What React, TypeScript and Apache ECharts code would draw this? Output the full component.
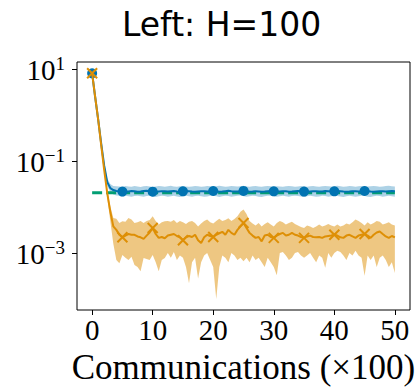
import React, { useEffect, useRef } from 'react';
import * as echarts from 'echarts';

// x step between stored points (in units of 100 communications)
const xStep = 0.5;
const xTicks = [0, 10, 20, 30, 40, 50];
const yTickExponents = [-3, -1, 1];

const orangeMean = [
  8.2, 2.5, 0.8, 0.22, 0.063, 0.02, 0.008, 0.0038, 0.0032, 0.0025,
  0.0022, 0.0024, 0.0026, 0.0025, 0.0025, 0.0023, 0.0022, 0.00204, 0.0024, 0.0028,
  0.0035, 0.0026, 0.00214, 0.00224, 0.0021, 0.0024, 0.0025, 0.0026, 0.00235, 0.0022,
  0.0019, 0.0022, 0.00235, 0.00224, 0.0025, 0.0019, 0.00166, 0.0022, 0.0025, 0.00235,
  0.00224, 0.0025, 0.0027, 0.0029, 0.0025, 0.0032, 0.00275, 0.0025, 0.0032, 0.0038,
  0.0045, 0.0035, 0.00275, 0.0024, 0.00214, 0.00224, 0.0018, 0.0024, 0.0025, 0.00224,
  0.00214, 0.0024, 0.0026, 0.00275, 0.0024, 0.0025, 0.00275, 0.0025, 0.0024, 0.00224,
  0.00214, 0.0023, 0.0024, 0.00224, 0.0022, 0.00224, 0.00214, 0.0023, 0.00235, 0.0024,
  0.0025, 0.0024, 0.0022, 0.00214, 0.0024, 0.0025, 0.0023, 0.00214, 0.0024, 0.0025,
  0.0026, 0.0024, 0.00214, 0.0025, 0.0028, 0.00295, 0.0026, 0.0023, 0.00214, 0.00235,
  0.0022,
];
const orangeUpper = [
  8.5, 2.6, 0.83, 0.24, 0.071, 0.024, 0.0105, 0.0058, 0.0056, 0.0045,
  0.0049, 0.0048, 0.0058, 0.0054, 0.0045, 0.0047, 0.005, 0.0045, 0.005, 0.00525,
  0.0063, 0.005, 0.0042, 0.0047, 0.0049, 0.005, 0.0048, 0.00525, 0.0045, 0.005,
  0.0047, 0.0043, 0.0048, 0.005, 0.0045, 0.0038, 0.0044, 0.005, 0.0054, 0.0047,
  0.0044, 0.005, 0.0056, 0.005, 0.00525, 0.00575, 0.005, 0.0055, 0.0063, 0.0079,
  0.0089, 0.0071, 0.005, 0.0044, 0.004, 0.0045, 0.0038, 0.0043, 0.0047, 0.0042,
  0.0038, 0.0045, 0.005, 0.0047, 0.0042, 0.0045, 0.0048, 0.0043, 0.004, 0.0037,
  0.0035, 0.004, 0.0038, 0.0035, 0.0038, 0.0042, 0.0038, 0.004, 0.0043, 0.004,
  0.0038, 0.0042, 0.0038, 0.004, 0.0044, 0.0042, 0.0047, 0.0054, 0.005, 0.0045,
  0.004, 0.0047, 0.0042, 0.0045, 0.005, 0.0048, 0.0042, 0.0044, 0.0047, 0.0042,
  0.004,
];
const orangeLower = [
  7.9, 2.4, 0.76, 0.21, 0.056, 0.016, 0.005, 0.0016, 0.00071, 0.0006,
  0.00091, 0.00079, 0.00071, 0.00083, 0.00055, 0.0005, 0.0004, 0.00078, 0.00074, 0.00071,
  0.00091, 0.00063, 0.0004, 0.00071, 0.00078, 0.001, 0.00079, 0.00105, 0.00071, 0.00089,
  0.00079, 0.0005, 0.00022, 0.00063, 0.00079, 0.00028, 0.00063, 0.00089, 0.001, 0.00071,
  0.0005, 0.0001, 0.0005, 0.00089, 0.00079, 0.00063, 0.001, 0.00089, 0.00071, 0.00079,
  0.00066, 0.00079, 0.00063, 0.00089, 0.00071, 0.00079, 0.00063, 0.0005, 0.00079, 0.00063,
  0.0005, 0.00033, 0.001, 0.00105, 0.00089, 0.00071, 0.00079, 0.001, 0.00105, 0.00089,
  0.00079, 0.00089, 0.001, 0.00079, 0.00063, 0.00089, 0.00079, 0.00048, 0.001, 0.00079,
  0.001, 0.00112, 0.00105, 0.00089, 0.00071, 0.001, 0.00089, 0.00112, 0.00089, 0.00079,
  0.00032, 0.00089, 0.00071, 0.00089, 0.0005, 0.00079, 0.00089, 0.00071, 0.0005, 0.00063,
  0.00037,
];

const blueMean = [
  8.2, 2.5, 0.8, 0.24, 0.079, 0.035, 0.026, 0.0235, 0.0225, 0.0222,
  0.0218, 0.0216, 0.022, 0.0224, 0.0221, 0.0217, 0.0219, 0.0224, 0.0226, 0.0222,
  0.0217, 0.0215, 0.0219, 0.0223, 0.0221, 0.0218, 0.0222, 0.0225, 0.022, 0.0217,
  0.0221, 0.0224, 0.0222, 0.0218, 0.0216, 0.022, 0.0223, 0.0221, 0.0218, 0.022,
  0.0224, 0.0222, 0.0217, 0.0219, 0.0223, 0.0226, 0.0221, 0.0218, 0.0219, 0.0222,
  0.0225, 0.0221, 0.0217, 0.0219, 0.0223, 0.022, 0.0216, 0.0218, 0.0222, 0.0224,
  0.0221, 0.0218, 0.022, 0.0223, 0.0221, 0.0217, 0.0219, 0.0222, 0.0225, 0.0222,
  0.0218, 0.0217, 0.022, 0.0223, 0.0221, 0.0218, 0.022, 0.0224, 0.0222, 0.0219,
  0.0221, 0.0224, 0.0222, 0.0218, 0.0216, 0.0219, 0.0223, 0.0221, 0.0218, 0.022,
  0.0224, 0.0222, 0.0219, 0.0217, 0.022, 0.0223, 0.0221, 0.0218, 0.0222, 0.0225,
  0.0221,
];
const blueUpper = [
  8.4, 2.6, 0.84, 0.26, 0.088, 0.042, 0.032, 0.029, 0.0285, 0.028,
  0.0275, 0.029, 0.0282, 0.0278, 0.0288, 0.0281, 0.0276, 0.0285, 0.029, 0.0283,
  0.0277, 0.0281, 0.0289, 0.0284, 0.0279, 0.0286, 0.0291, 0.0283, 0.0278, 0.0284,
  0.0288, 0.0282, 0.0277, 0.0283, 0.029, 0.0285, 0.0279, 0.0282, 0.0287, 0.0284,
  0.0279, 0.0286, 0.0292, 0.0284, 0.0278, 0.0283, 0.0289, 0.0285, 0.028, 0.0286,
  0.0291, 0.0283, 0.0278, 0.0284, 0.0288, 0.0281, 0.0277, 0.0284, 0.029, 0.0285,
  0.028, 0.0286, 0.0283, 0.0278, 0.0285, 0.029, 0.0284, 0.0279, 0.0283, 0.0288,
  0.0284, 0.0279, 0.0285, 0.029, 0.0283, 0.0278, 0.0284, 0.0289, 0.0285, 0.028,
  0.0286, 0.0291, 0.0284, 0.0279, 0.0283, 0.0288, 0.0284, 0.0278, 0.0285, 0.029,
  0.0286, 0.028, 0.0284, 0.0289, 0.0285, 0.0279, 0.0283, 0.0288, 0.0291, 0.0286,
  0.0283,
];
const blueLower = [
  8.0, 2.4, 0.76, 0.22, 0.071, 0.029, 0.021, 0.0188, 0.018, 0.0176,
  0.0171, 0.0176, 0.0173, 0.0169, 0.0175, 0.0178, 0.0172, 0.0168, 0.0174, 0.0177,
  0.0171, 0.0167, 0.0173, 0.0178, 0.0174, 0.0169, 0.0172, 0.0176, 0.0171, 0.0167,
  0.0173, 0.0177, 0.0172, 0.0168, 0.0174, 0.0178, 0.0173, 0.0169, 0.0171, 0.0176,
  0.0178, 0.0172, 0.0167, 0.0173, 0.0177, 0.0174, 0.0169, 0.0172, 0.0176, 0.0179,
  0.0173, 0.0168, 0.0172, 0.0177, 0.0174, 0.0169, 0.0166, 0.0172, 0.0176, 0.0178,
  0.0172, 0.0168, 0.0173, 0.0177, 0.0173, 0.0169, 0.0174, 0.0178, 0.0175, 0.017,
  0.0167, 0.0172, 0.0176, 0.0173, 0.0168, 0.0171, 0.0177, 0.0174, 0.0169, 0.0173,
  0.0178, 0.0175, 0.017, 0.0167, 0.0172, 0.0176, 0.0173, 0.0168, 0.0172, 0.0177,
  0.0174, 0.0169, 0.0167, 0.0173, 0.0177, 0.0174, 0.0169, 0.0172, 0.0176, 0.0173,
  0.0169,
];

const greenX = [0, 50];
const greenLevel = [0.0205, 0.0205];

const BLUE = '#0173b2';
const ORANGE = '#de8f05';
const GREEN = '#029e73';
const SERIF = 'Liberation Serif';

export default function App() {
  const ref = useRef<HTMLDivElement>(null);

  useEffect(() => {
    if (!ref.current) return;
    const chart = echarts.init(ref.current, null, { renderer: 'svg' });

    const toPts = (arr: number[]) => arr.map((v, i) => [i * xStep, v]);
    const markerSize = (_v: any, p: any) =>
      p.dataIndex % 10 === 0 && p.dataIndex < 100 ? 10 : 0;

    const band = (upper: number[], lower: number[], fill: string, z: number) => ({
      type: 'custom',
      xAxisIndex: 0,
      yAxisIndex: 0,
      data: [[0, 1]],
      silent: true,
      clip: true,
      z,
      renderItem: (_params: any, api: any) => {
        const pts: number[][] = [];
        upper.forEach((v, i) => pts.push(api.coord([i * xStep, v])));
        for (let i = lower.length - 1; i >= 0; i--) pts.push(api.coord([i * xStep, lower[i]]));
        return {
          type: 'polygon',
          shape: { points: pts },
          style: { fill, stroke: 'none' },
        };
      },
    });

    const option: any = {
      animation: false,
      title: {
        text: 'Left: H=100',
        left: 117,
        top: 3,
        textStyle: { fontFamily: 'DejaVu Sans', fontSize: 33, fontWeight: 'normal', color: '#000' },
      },
      grid: [
        { left: 77, top: 62, right: 9, bottom: 81, show: true, borderColor: '#000', borderWidth: 1, backgroundColor: 'transparent', z: 10 },
        { left: 92.14, right: 24.14, top: 62, bottom: 81 },
        { left: 77, right: 9, top: 69.35, bottom: 137.9 },
      ],
      xAxis: [
        { gridIndex: 0, type: 'value', min: -2.5, max: 52.5, show: false },
        {
          gridIndex: 1,
          type: 'value',
          min: xTicks[0],
          max: xTicks[xTicks.length - 1],
          interval: xTicks[1] - xTicks[0],
          axisLine: { show: false },
          axisTick: { show: true, length: 5, lineStyle: { color: '#000', width: 1 } },
          axisLabel: { fontFamily: SERIF, fontSize: 29, color: '#000', margin: 5 },
          splitLine: { show: false },
          name: 'Communications (×100)',
          nameLocation: 'middle',
          nameGap: 40,
          nameTextStyle: { fontFamily: SERIF, fontSize: 35, color: '#000' },
        },
        { gridIndex: 2, type: 'value', min: 0, max: 1, show: false },
      ],
      yAxis: [
        { gridIndex: 0, type: 'log', logBase: 10, min: Math.pow(10, -4.24), max: Math.pow(10, 1.16), show: false },
        { gridIndex: 1, type: 'value', min: 0, max: 1, show: false },
        {
          gridIndex: 2,
          type: 'value',
          min: yTickExponents[0],
          max: yTickExponents[yTickExponents.length - 1],
          interval: 2,
          axisLine: { show: false },
          axisTick: { show: true, length: 5, lineStyle: { color: '#000', width: 1 } },
          splitLine: { show: false },
          axisLabel: {
            margin: 12,
            formatter: (v: number) => `{b|10}{s|${v < 0 ? '\u2212' + Math.abs(v) : v}}`,
            rich: {
              b: { fontFamily: SERIF, fontSize: 29, color: '#000', lineHeight: 30, verticalAlign: 'bottom' },
              s: { fontFamily: SERIF, fontSize: 19, color: '#000', lineHeight: 18, verticalAlign: 'top' },
            },
          },
        },
      ],
      series: [
        band(orangeUpper, orangeLower, 'rgba(222,143,5,0.5)', 1),
        band(blueUpper, blueLower, 'rgba(1,115,178,0.32)', 2),
        {
          type: 'line',
          xAxisIndex: 0,
          yAxisIndex: 0,
          data: greenX.map((x, i) => [x, greenLevel[i]]),
          showSymbol: false,
          symbol: 'none',
          lineStyle: { color: GREEN, width: 3, type: [10, 4] },
          z: 3,
          silent: true,
        },
        {
          type: 'line',
          xAxisIndex: 0,
          yAxisIndex: 0,
          data: toPts(blueMean),
          symbol: 'circle',
          symbolSize: markerSize,
          showSymbol: true,
          itemStyle: { color: BLUE },
          lineStyle: { color: BLUE, width: 2 },
          z: 4,
          silent: true,
        },
        {
          type: 'line',
          xAxisIndex: 0,
          yAxisIndex: 0,
          data: toPts(orangeMean),
          symbol: 'path://M0,0L10,10M10,0L0,10',
          symbolSize: markerSize,
          showSymbol: true,
          itemStyle: { color: ORANGE, borderColor: ORANGE, borderWidth: 2 },
          lineStyle: { color: ORANGE, width: 2 },
          z: 5,
          silent: true,
        },
      ],
    };

    chart.setOption(option);
    return () => chart.dispose();
  }, []);

  return (
    <div
      ref={ref}
      style={{ position: 'fixed', left: 0, top: 0, width: 419, height: 391, background: '#fff' }}
    />
  );
}
